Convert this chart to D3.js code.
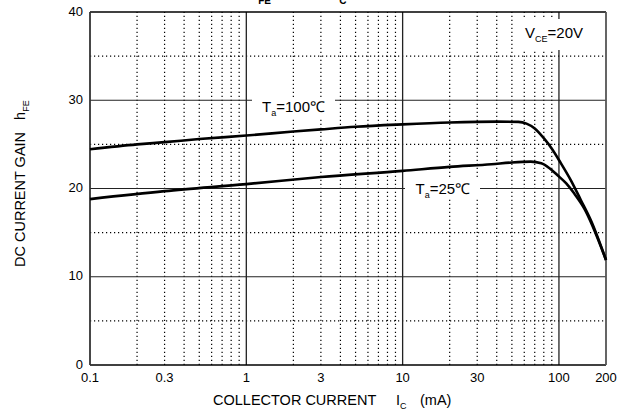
<!DOCTYPE html>
<html>
<head>
<meta charset="utf-8">
<script src="https://cdn.jsdelivr.net/npm/d3@7"></script>
<style>
  body { margin: 0; background: #fff; }
  svg { display: block; font-family: Arial, "Liberation Sans", sans-serif; }
</style>
</head>
<body>
<div id="chart"></div>
<script>
// hFE vs IC, two temperatures, VCE = 20V

// curve for Ta = 100 C
var ic100 = [0.1, 0.2, 0.3, 0.5, 1, 2, 3, 5, 10, 20, 40, 55, 62, 70, 80, 91, 103, 119, 138, 160, 200];
var hfe100 = [24.45, 25.0, 25.25, 25.6, 26.0, 26.45, 26.7, 27.0, 27.27, 27.48, 27.58, 27.55, 27.35, 26.8, 25.7, 24.4, 22.85, 20.95, 18.7, 16.4, 11.9];

// curve for Ta = 25 C
var ic25 = [0.1, 0.3, 1, 3, 10, 20, 37, 50, 66, 77, 87, 98, 111, 125, 145, 200];
var hfe25 = [18.8, 19.7, 20.5, 21.3, 22.0, 22.45, 22.75, 22.95, 23.04, 22.85, 22.3, 21.5, 20.6, 19.45, 17.75, 11.9];

var xTickLabels = [0.1, 0.3, 1, 3, 10, 30, 100, 200];
var yTickLabels = [0, 10, 20, 30, 40];

var W = 627, H = 416;
var margin = {top: 12, right: 21, bottom: 51, left: 90};

var svg = d3.select("#chart").append("svg")
  .attr("width", W)
  .attr("height", H);

var x = d3.scaleLog()
  .domain([0.1, 200])
  .range([margin.left, W - margin.right]);

var y = d3.scaleLinear()
  .domain([0, 40])
  .range([H - margin.bottom, margin.top]);

var x0 = x.range()[0], x1 = x.range()[1];
var y0 = y.range()[0], y1 = y.range()[1];

// minor grid (dotted)
var minorX = x.ticks().filter(function (d) {
  var l = Math.log10(d);
  return Math.abs(l - Math.round(l)) > 1e-6 && d < 100;
});
var minorY = [5, 15, 25, 35];
var majorX = [1, 10, 100];
var majorY = [10, 20, 30];

var grid = svg.append("g");
grid.selectAll(".mx").data(minorX).enter().append("line")
  .attr("x1", function (d) { return x(d); })
  .attr("x2", function (d) { return x(d); })
  .attr("y1", y0).attr("y2", y1)
  .attr("stroke", "#000").attr("stroke-width", 1.2)
  .attr("stroke-dasharray", "1.2,2.8");
grid.selectAll(".my").data(minorY).enter().append("line")
  .attr("x1", x0).attr("x2", x1)
  .attr("y1", function (d) { return y(d); })
  .attr("y2", function (d) { return y(d); })
  .attr("stroke", "#000").attr("stroke-width", 1.2)
  .attr("stroke-dasharray", "1.2,2.8");
grid.selectAll(".Mx").data(majorX).enter().append("line")
  .attr("x1", function (d) { return x(d); })
  .attr("x2", function (d) { return x(d); })
  .attr("y1", y0).attr("y2", y1)
  .attr("stroke", "#222").attr("stroke-width", 1.3);
grid.selectAll(".My").data(majorY).enter().append("line")
  .attr("x1", x0).attr("x2", x1)
  .attr("y1", function (d) { return y(d); })
  .attr("y2", function (d) { return y(d); })
  .attr("stroke", "#222").attr("stroke-width", 1.2);

// frame
svg.append("line").attr("x1", x0).attr("x2", x1).attr("y1", y1).attr("y2", y1)
  .attr("stroke", "#000").attr("stroke-width", 1.5);
svg.append("line").attr("x1", x0).attr("x2", x1).attr("y1", y0).attr("y2", y0)
  .attr("stroke", "#000").attr("stroke-width", 1.5);
svg.append("line").attr("x1", x0).attr("x2", x0).attr("y1", y0).attr("y2", y1)
  .attr("stroke", "#333").attr("stroke-width", 1.8);
svg.append("line").attr("x1", x1).attr("x2", x1).attr("y1", y0).attr("y2", y1)
  .attr("stroke", "#555").attr("stroke-width", 1.8);

// curves
var line = d3.line()
  .x(function (d) { return x(d[0]); })
  .y(function (d) { return y(d[1]); })
  .curve(d3.curveMonotoneX);

svg.append("path")
  .datum(d3.zip(ic100, hfe100))
  .attr("d", line)
  .attr("fill", "none").attr("stroke", "#000").attr("stroke-width", 2.6);
svg.append("path")
  .datum(d3.zip(ic25, hfe25))
  .attr("d", line)
  .attr("fill", "none").attr("stroke", "#000").attr("stroke-width", 2.6);

// tick labels
svg.append("g").selectAll("text").data(xTickLabels).enter().append("text")
  .attr("x", function (d) { return x(d); })
  .attr("y", y0 + 17)
  .attr("text-anchor", "middle")
  .attr("font-size", 13)
  .text(function (d) { return d; });

svg.append("g").selectAll("text").data(yTickLabels).enter().append("text")
  .attr("x", x0 - 7)
  .attr("y", function (d) { return y(d) - 1; })
  .attr("dy", "0.35em")
  .attr("text-anchor", "end")
  .attr("font-size", 13)
  .text(function (d) { return d; });

// labels with white boxes
function subLabel(bx, by, bw, bh, tx, ty, main, sub, rest) {
  svg.append("rect").attr("x", bx).attr("y", by).attr("width", bw).attr("height", bh)
    .attr("fill", "#fff");
  var t = svg.append("text").attr("x", tx).attr("y", ty).attr("font-size", 15);
  t.append("tspan").text(main);
  t.append("tspan").attr("font-size", 9).attr("dy", 4).text(sub);
  t.append("tspan").attr("dy", -4).text(rest);
}
subLabel(252, 97, 83, 21, 262, 111.5, "T", "a", "=100\u2103");
subLabel(405, 179, 75, 19, 415.5, 194.3, "T", "a", "=25\u2103");
subLabel(519, 19, 76, 31, 525, 37.5, "V", "CE", "=20V");

// title (mostly above the page edge)
var title = svg.append("text").attr("y", -1).attr("font-size", 15).attr("font-weight", "bold");
title.append("tspan").attr("x", 249).text("h");
title.append("tspan").attr("font-size", 10).attr("dy", 5).text("FE");
title.append("tspan").attr("x", 335).attr("dy", -5).text("I");
title.append("tspan").attr("font-size", 10).attr("dy", 5).text("C");

// axis titles
var xt = svg.append("text").attr("y", 404.5).attr("font-size", 14.5);
xt.append("tspan").attr("x", 213).text("COLLECTOR CURRENT");
xt.append("tspan").attr("x", 396).text("I");
xt.append("tspan").attr("font-size", 9).attr("dy", 4).text("C");
xt.append("tspan").attr("x", 420).attr("dy", -4).text("(mA)");

var yt = svg.append("text")
  .attr("transform", "translate(25,267) rotate(-90)")
  .attr("font-size", 14.5);
yt.append("tspan").text("DC CURRENT GAIN");
yt.append("tspan").attr("dx", 12).text("h");
yt.append("tspan").attr("font-size", 9).attr("dy", 4).text("FE");
</script>
</body>
</html>
